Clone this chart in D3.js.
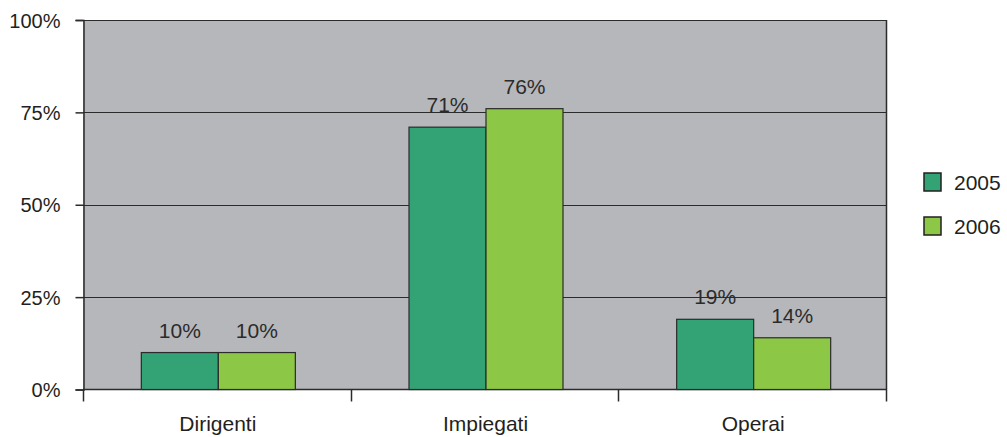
<!DOCTYPE html>
<html>
<head>
<meta charset="utf-8">
<script src="https://cdn.jsdelivr.net/npm/d3@7"></script>
<style>
  html, body { margin: 0; padding: 0; background: #fff; }
  svg { display: block; font-family: "Liberation Sans", Arial, Helvetica, sans-serif; }
</style>
</head>
<body>
<svg id="chart" width="1007" height="437"></svg>
<script>
// Categories and yearly shares (percent)
const categories = ["Dirigenti", "Impiegati", "Operai"];
const years = ["2005", "2006"];
const values2005 = [10, 71, 19];
const values2006 = [10, 76, 14];
const yTicks = [0, 25, 50, 75, 100];
const colors = ["#33a375", "#8dc746"];

const series = [values2005, values2006];

const margin = { left: 83, top: 20, right: 886, bottom: 389.5 };
const svg = d3.select("#chart");

const x0 = d3.scaleBand().domain(categories).range([margin.left, margin.right]).paddingInner(0).paddingOuter(0);
const x1 = d3.scaleBand().domain(years).range([1.5, x0.bandwidth() + 1.5]).paddingInner(0).paddingOuter(0.738);
const y = d3.scaleLinear().domain([0, 100]).range([margin.bottom, margin.top]);

// plot background
svg.append("rect")
  .attr("x", margin.left).attr("y", margin.top)
  .attr("width", margin.right - margin.left).attr("height", margin.bottom - margin.top)
  .attr("fill", "#b6b7bb");

// horizontal gridlines
svg.append("g").selectAll("line")
  .data(yTicks.filter(d => d > 0))
  .join("line")
  .attr("x1", margin.left).attr("x2", margin.right)
  .attr("y1", d => Math.round(y(d)) + 0.5).attr("y2", d => Math.round(y(d)) + 0.5)
  .attr("stroke", "#2b2b2b").attr("stroke-width", 1.2);

// right border
svg.append("line")
  .attr("x1", margin.right + 0.5).attr("x2", margin.right + 0.5)
  .attr("y1", margin.top).attr("y2", margin.bottom)
  .attr("stroke", "#2b2b2b").attr("stroke-width", 1.5);

// y axis
const yAxis = d3.axisLeft(y).tickValues(yTicks).tickFormat(d => d + "%").tickSize(8).tickPadding(15);
const gy = svg.append("g").attr("transform", `translate(${margin.left + 0.5},0)`).call(yAxis);
gy.attr("font-family", null).attr("font-size", null);
gy.select(".domain").attr("stroke", "#2b2b2b").attr("stroke-width", 1.5);
gy.selectAll(".tick line").attr("stroke", "#2b2b2b").attr("stroke-width", 1.5);
gy.selectAll(".tick text").attr("font-size", 20).attr("fill", "#231f20").attr("dy", "0.36em");

// x axis with ticks at category boundaries
svg.append("line")
  .attr("x1", margin.left).attr("x2", margin.right + 1)
  .attr("y1", margin.bottom).attr("y2", margin.bottom)
  .attr("stroke", "#2b2b2b").attr("stroke-width", 1.5);
const boundaries = categories.map(c => x0(c)).concat([x0(categories[categories.length - 1]) + x0.bandwidth()]);
svg.append("g").selectAll("line")
  .data(boundaries)
  .join("line")
  .attr("x1", d => Math.round(d) + 0.5).attr("x2", d => Math.round(d) + 0.5)
  .attr("y1", margin.bottom).attr("y2", margin.bottom + 12)
  .attr("stroke", "#2b2b2b").attr("stroke-width", 1.5);
svg.append("g").selectAll("text")
  .data(categories)
  .join("text")
  .attr("x", d => x0(d) + x0.bandwidth() / 2 + 1)
  .attr("y", 431)
  .attr("text-anchor", "middle")
  .attr("font-size", 21)
  .attr("fill", "#231f20")
  .text(d => d);

// bars
const groups = svg.append("g").selectAll("g")
  .data(categories)
  .join("g")
  .attr("transform", d => `translate(${x0(d)},0)`);

groups.selectAll("rect")
  .data((c, i) => years.map((yr, j) => ({ yr, v: series[j][i], j })))
  .join("rect")
  .attr("x", d => x1(d.yr))
  .attr("y", d => y(d.v))
  .attr("width", x1.bandwidth())
  .attr("height", d => y(0) - y(d.v))
  .attr("fill", d => colors[d.j])
  .attr("stroke", "#2b2b2b")
  .attr("stroke-width", 1.2);

groups.selectAll("text")
  .data((c, i) => years.map((yr, j) => ({ yr, v: series[j][i], j })))
  .join("text")
  .attr("x", d => x1(d.yr) + x1.bandwidth() / 2)
  .attr("y", d => y(d.v) - 15)
  .attr("text-anchor", "middle")
  .attr("font-size", 21)
  .attr("fill", "#2b2b2b")
  .text(d => d.v + "%");

// legend
const legend = svg.append("g").selectAll("g")
  .data(years)
  .join("g")
  .attr("transform", (d, i) => `translate(924,${173 + i * 44})`);
legend.append("rect")
  .attr("width", 17).attr("height", 18)
  .attr("fill", (d, i) => colors[i])
  .attr("stroke", "#231f20").attr("stroke-width", 1.5);
legend.append("text")
  .attr("x", 30).attr("y", 17)
  .attr("font-size", 21)
  .attr("fill", "#231f20")
  .text(d => d);
</script>
</body>
</html>
